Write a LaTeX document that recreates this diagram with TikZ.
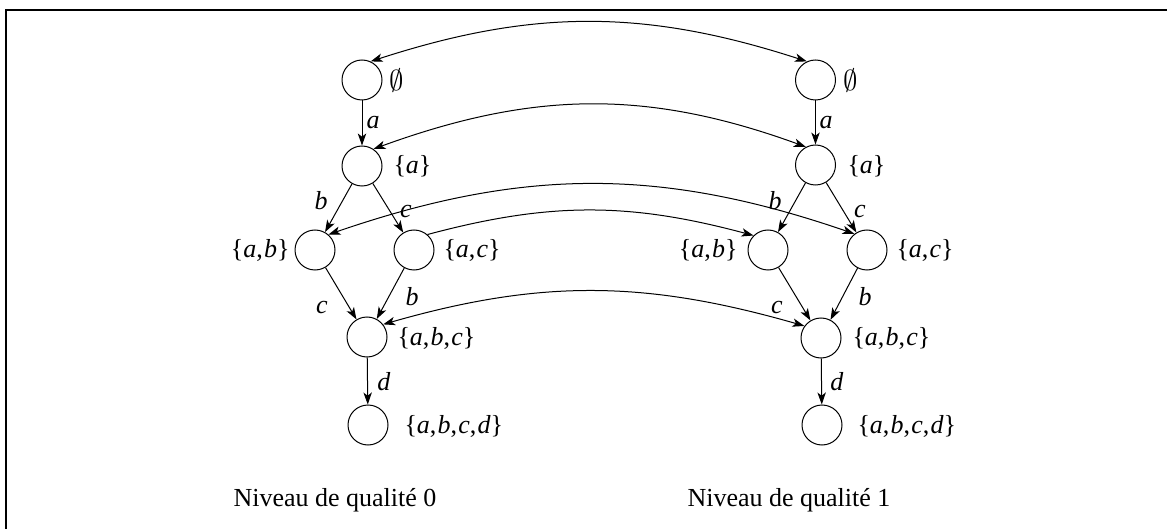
\documentclass[tikz,border=0pt]{standalone}
\usepackage{fontspec}
\setmainfont{Liberation Serif}
\usetikzlibrary{arrows.meta}
\newcommand\ital[1]{\textit{#1}}
\newcommand\cm{,\kern0.6pt}
\begin{document}
\begin{tikzpicture}[x=0.5pt,y=0.5pt,line width=0.5pt,
  font=\fontsize{13}{15}\selectfont,
  st/.style={circle,draw,minimum size=20pt,inner sep=0pt},
  lbl/.style={inner sep=0pt},
  rl/.style={inner sep=0pt,anchor=west},
  ll/.style={inner sep=0pt,anchor=east},
  emp/.style={inner sep=0pt,anchor=west,font=\fontsize{15}{17}\selectfont},
  captxt/.style={inner sep=0pt,anchor=west},
  arr/.style={-{Stealth[length=6pt,width=4.2pt,inset=1.6pt]}},
  both/.style={{Stealth[length=6pt,width=4.2pt,inset=1.6pt]}-{Stealth[length=6pt,width=4.2pt,inset=1.6pt]}},
  frame/.style={line width=1pt}]
\useasboundingbox (0,0) rectangle (1167,-529);
\draw[frame] (6,-529) -- (6,-10) -- (1167,-10);

% left lattice
\node[st] (L0) at (362,-80) {};
\node[st] (La) at (362,-166) {};
\node[st] (Lab) at (315,-250) {};
\node[st] (Lac) at (414,-250) {};
\node[st] (Labc) at (367,-337) {};
\node[st] (Labcd) at (368,-425) {};
\node[emp] (tL0) at (389,-81) {$\emptyset$};
\node[rl] (tLa) at (393,-166) {\{\ital{a}\}};
\node[ll] (tLab) at (290,-250) {\{\ital{a}\cm\ital{b}\}};
\node[rl] (tLac) at (443,-250) {\{\ital{a}\cm\ital{c}\}};
\node[rl] (tLabc) at (397,-338) {\{\ital{a}\cm\ital{b}\cm\ital{c}\}};
\node[rl] (tLabcd) at (404,-426) {\{\ital{a}\cm\ital{b}\cm\ital{c}\cm\ital{d}\}};

\draw[arr] (L0) -- (La) node[lbl] at (373,-123) {\ital{a}};
\draw[arr] (La) -- (Lab) node[lbl] at (321,-201) {\ital{b}};
\draw[arr] (La) -- (Lac) node[lbl] at (406,-212) {\ital{c}};
\draw[arr] (Lab) -- (Labc) node[lbl] at (322,-308) {\ital{c}};
\draw[arr] (Lac) -- (Labc) node[lbl] at (412,-297) {\ital{b}};
\draw[arr] (Labc) -- (Labcd) node[lbl] at (384,-382) {\ital{d}};

% right lattice
\node[st] (R0) at (815.5,-80) {};
\node[st] (Ra) at (815.5,-165) {};
\node[st] (Rab) at (768,-250) {};
\node[st] (Rac) at (867,-250) {};
\node[st] (Rabc) at (821,-338) {};
\node[st] (Rabcd) at (822,-425) {};
\node[emp] (tR0) at (843,-81) {$\emptyset$};
\node[rl] (tRa) at (847,-166) {\{\ital{a}\}};
\node[ll] (tRab) at (738,-250) {\{\ital{a}\cm\ital{b}\}};
\node[rl] (tRac) at (896,-250) {\{\ital{a}\cm\ital{c}\}};
\node[rl] (tRabc) at (852,-338) {\{\ital{a}\cm\ital{b}\cm\ital{c}\}};
\node[rl] (tRabcd) at (857,-426) {\{\ital{a}\cm\ital{b}\cm\ital{c}\cm\ital{d}\}};

\draw[arr] (R0) -- (Ra) node[lbl] at (826,-123) {\ital{a}};
\draw[arr] (Ra) -- (Rab) node[lbl] at (775,-201) {\ital{b}};
\draw[arr] (Ra) -- (Rac) node[lbl] at (860,-212) {\ital{c}};
\draw[arr] (Rab) -- (Rabc) node[lbl] at (777,-308) {\ital{c}};
\draw[arr] (Rac) -- (Rabc) node[lbl] at (865,-297) {\ital{b}};
\draw[arr] (Rabc) -- (Rabcd) node[lbl] at (837,-382) {\ital{d}};

% correspondences
\draw[both] (L0.65) to[out=18,in=162] (R0.115);
\draw[both] (La.56) to[out=20,in=160] (Ra.118);
\draw[both] (Lab.49) to[out=19,in=161] (Rac.128);
\draw[arr] (Lac.49) to[out=15,in=165] (Rab.135);
\draw[both] (Labc.38) to[out=16,in=164] (Rabc.144);

\node[captxt] (q0) at (233,-500) {Niveau de qualité 0};
\node[captxt] (q1) at (687,-500) {Niveau de qualité 1};
\end{tikzpicture}
\end{document}
